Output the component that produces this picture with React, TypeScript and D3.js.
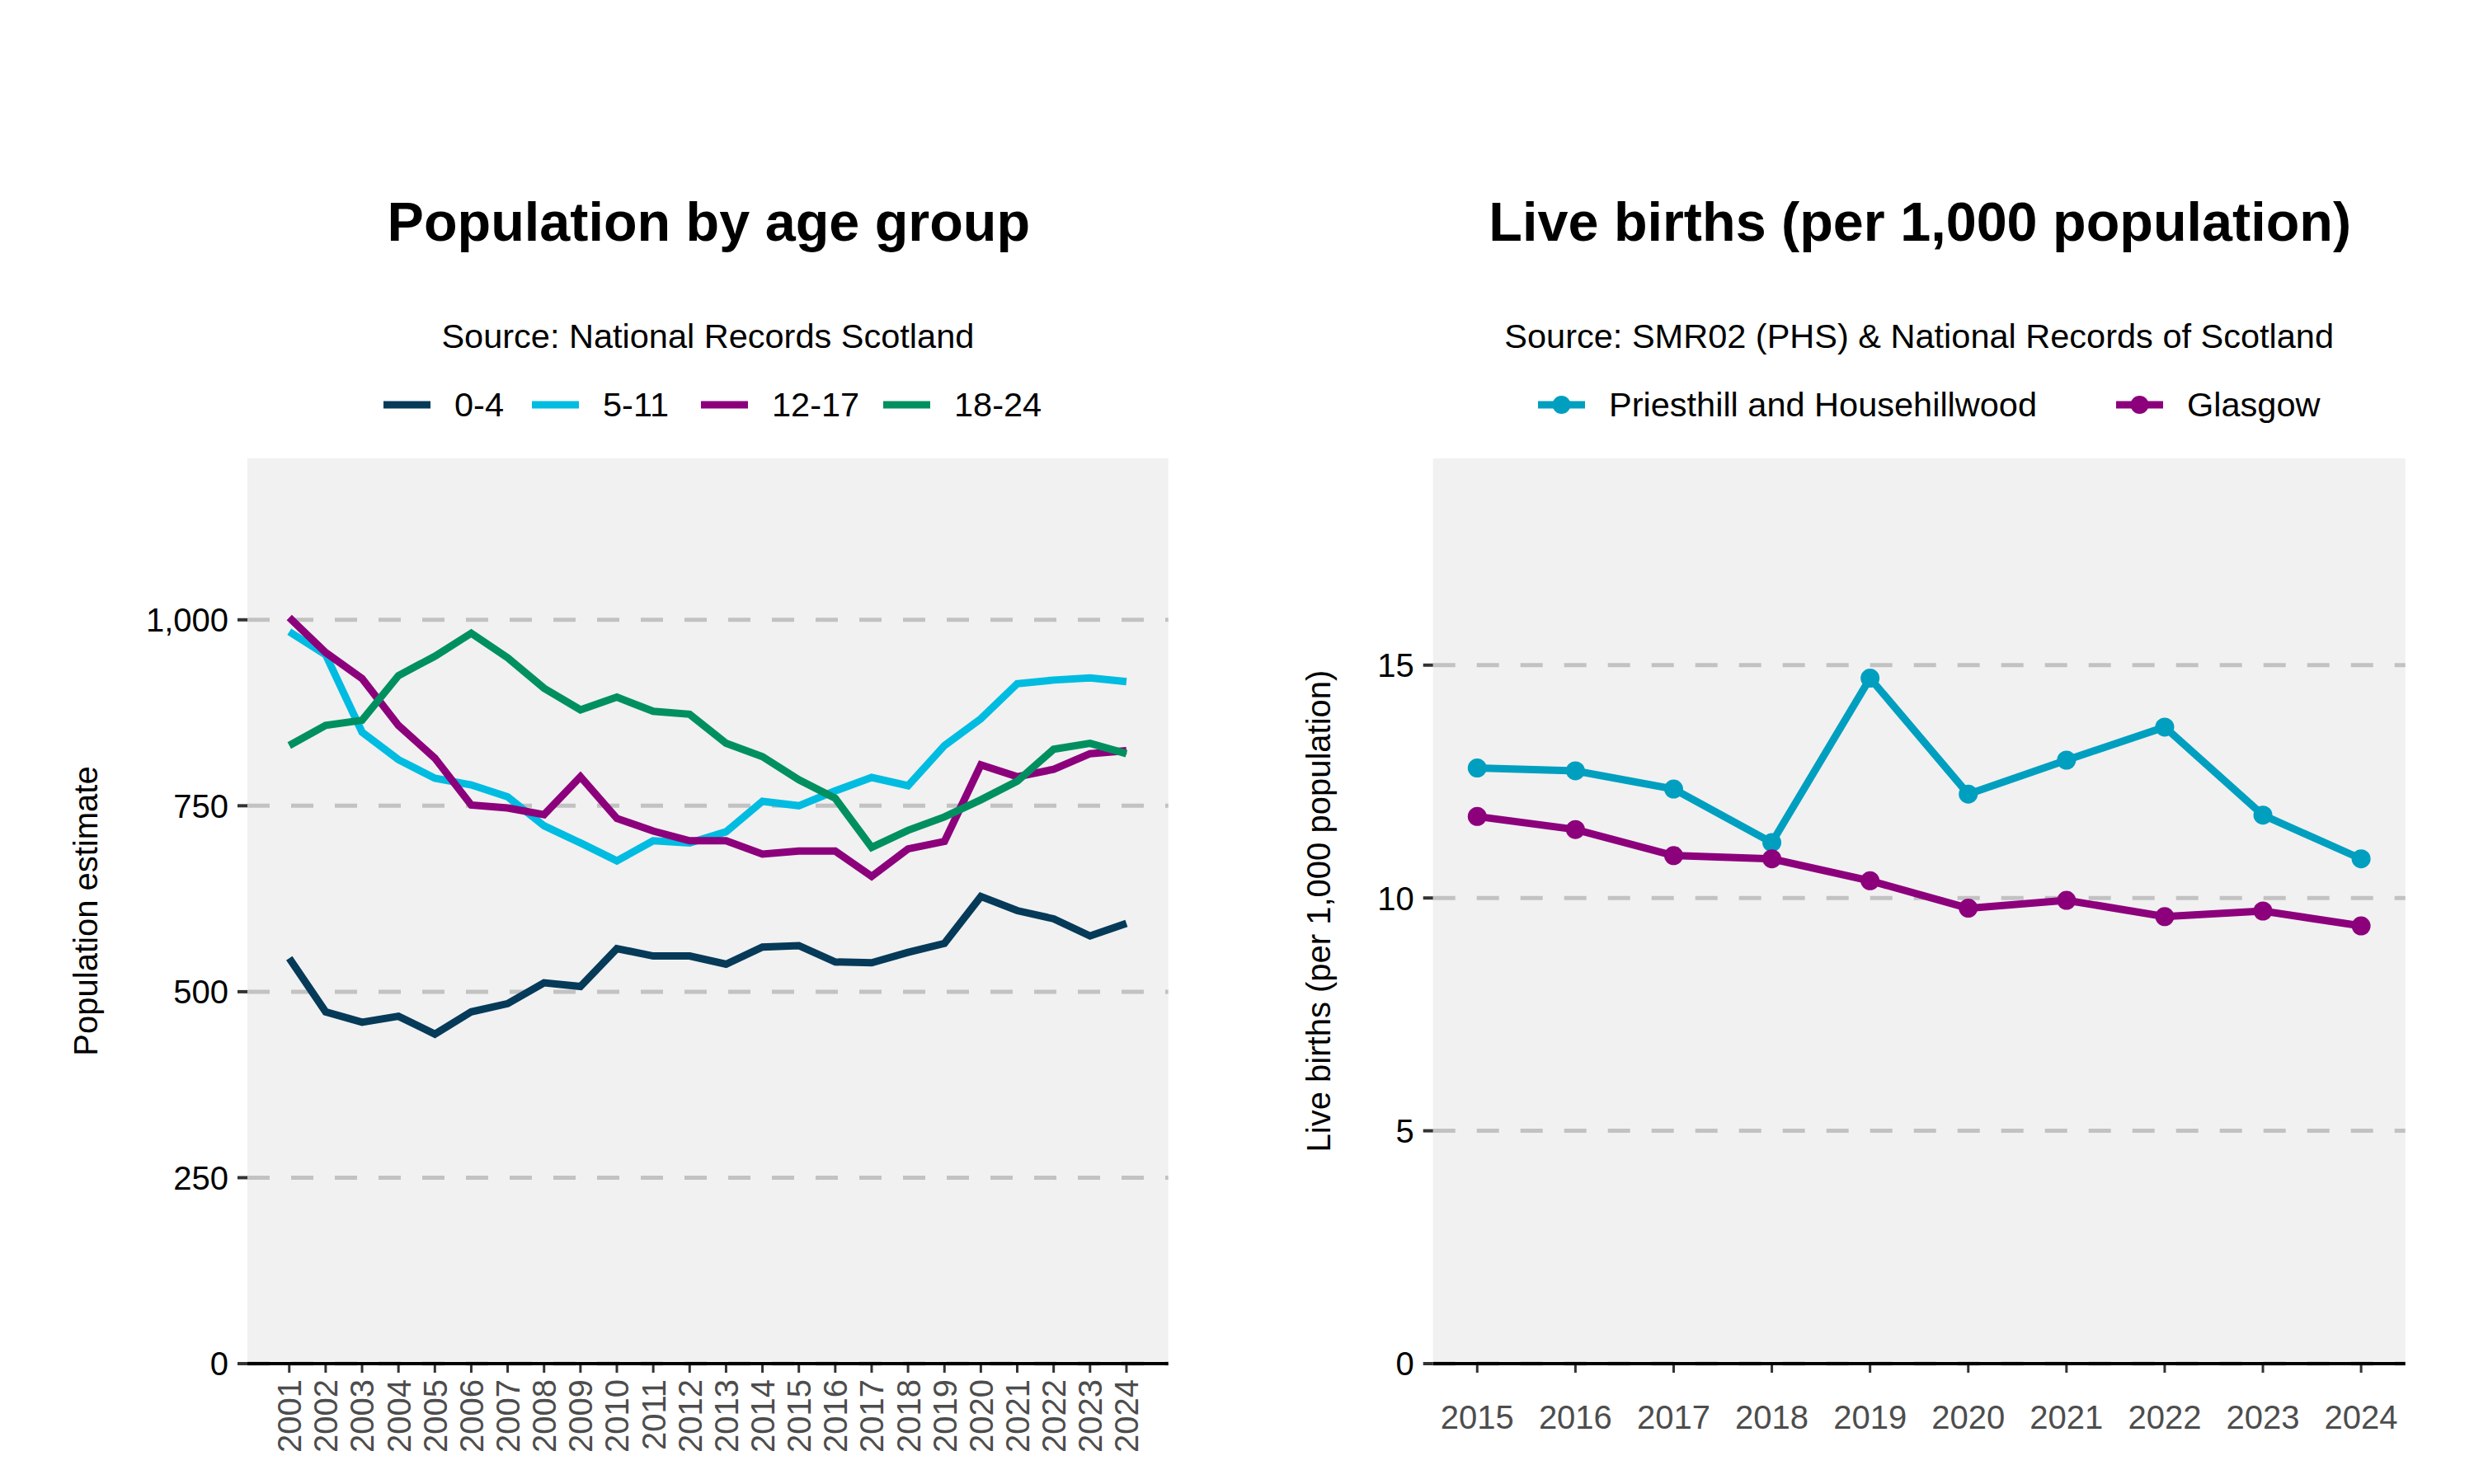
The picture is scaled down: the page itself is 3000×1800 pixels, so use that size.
import * as d3 from 'd3';
import React from 'react';

// population by age group (NRS mid-year estimates)
const popYears = [2001, 2002, 2003, 2004, 2005, 2006, 2007, 2008, 2009, 2010, 2011, 2012,
  2013, 2014, 2015, 2016, 2017, 2018, 2019, 2020, 2021, 2022, 2023, 2024];
const age0to4 = [545, 473, 459, 467, 443, 473, 484, 512, 507, 558, 548, 548,
  537, 560, 562, 540, 539, 553, 565, 628, 609, 598, 575, 592];
const age5to11 = [984, 953, 849, 812, 787, 778, 762, 723, 700, 676, 703, 700,
  715, 756, 750, 770, 788, 777, 831, 867, 914, 919, 922, 917];
const age12to17 = [1003, 956, 921, 858, 814, 751, 747, 738, 789, 733, 716, 703,
  703, 685, 689, 689, 655, 692, 702, 805, 789, 799, 820, 824];
const age18to24 = [831, 858, 865, 925, 951, 982, 949, 908, 879, 896, 877, 873,
  834, 816, 785, 760, 694, 717, 735, 758, 783, 826, 834, 820];
const popTicks = [0, 250, 500, 750, 1000];

// live births per 1,000 population
const birthYears = [2015, 2016, 2017, 2018, 2019, 2020, 2021, 2022, 2023, 2024];
const priesthill = [12.79, 12.73, 12.34, 11.19, 14.72, 12.23, 12.96, 13.67, 11.78, 10.84];
const glasgow = [11.75, 11.47, 10.91, 10.84, 10.37, 9.78, 9.95, 9.60, 9.72, 9.40];
const birthTicks = [0, 5, 10, 15];

const popSeries = [
  { name: '0-4', values: age0to4, color: '#063A59' },
  { name: '5-11', values: age5to11, color: '#00BCE1' },
  { name: '12-17', values: age12to17, color: '#8C007C' },
  { name: '18-24', values: age18to24, color: '#009060' },
];
const birthSeries = [
  { name: 'Priesthill and Househillwood', values: priesthill, color: '#009FC0' },
  { name: 'Glasgow', values: glasgow, color: '#8C007C' },
];

const FONT = '"Liberation Sans", Arial, Helvetica, sans-serif';
const PANEL_BG = '#F1F1F1';
const GRID = '#C2C2C2';
const TOP = 556;
const BOTTOM = 1654;

type Series = { name: string; values: number[]; color: string };

type PanelProps = {
  left: number;
  right: number;
  years: number[];
  series: Series[];
  yMax: number;
  ticks: number[];
  yTitle: string;
  yTitleX: number;
  rotateYears: boolean;
  points: boolean;
  title: string;
  subtitle: string;
  legendKeys: number[];
};

function Panel(p: PanelProps) {
  const span = p.years[p.years.length - 1] - p.years[0];
  const x = d3.scaleLinear()
    .domain([p.years[0] - span * 0.05, p.years[p.years.length - 1] + span * 0.05])
    .range([p.left, p.right]);
  const y = d3.scaleLinear().domain([0, p.yMax]).range([BOTTOM, TOP]);
  const fmt = d3.format(',');
  const mid = (p.left + p.right) / 2;

  const line = d3.line<number>()
    .x((_, i) => x(p.years[i]))
    .y((d) => y(d));

  return (
    <g>
      <text x={mid + 1} y={292} textAnchor="middle" fontSize={66.5} fontWeight="bold" fill="#000">{p.title}</text>
      <text x={mid} y={422} textAnchor="middle" fontSize={41.5} fill="#000">{p.subtitle}</text>

      {p.series.map((s, i) => {
        const kx = p.legendKeys[i];
        return (
          <g key={s.name}>
            <line x1={kx} x2={kx + 57} y1={491} y2={491} stroke={s.color} strokeWidth={9} />
            {p.points && <circle cx={kx + 28.5} cy={491} r={11} fill={s.color} />}
            <text x={kx + 86} y={505} fontSize={41.5} fill="#000">{s.name}</text>
          </g>
        );
      })}

      <rect x={p.left} y={TOP} width={p.right - p.left} height={BOTTOM - TOP} fill={PANEL_BG} />

      {p.ticks.map((t) => (
        <g key={t}>
          <line x1={p.left} x2={p.right} y1={y(t)} y2={y(t)} stroke={GRID} strokeWidth={5} strokeDasharray="27 26" />
          <line x1={p.left - 12} x2={p.left} y1={y(t)} y2={y(t)} stroke="#333" strokeWidth={4} />
          <text x={p.left - 23} y={y(t)} dy="0.36em" textAnchor="end" fontSize={40} fill="#000">{fmt(t)}</text>
        </g>
      ))}

      <text transform={`translate(${p.yTitleX},${(TOP + BOTTOM) / 2}) rotate(-90)`} textAnchor="middle" fontSize={40} fill="#000">{p.yTitle}</text>

      {p.series.map((s) => (
        <g key={s.name}>
          <path d={line(s.values) || ''} fill="none" stroke={s.color} strokeWidth={9} strokeLinejoin="miter" />
          {p.points && s.values.map((v, i) => (
            <circle key={i} cx={x(p.years[i])} cy={y(v)} r={11.5} fill={s.color} />
          ))}
        </g>
      ))}

      <line x1={p.left} x2={p.right} y1={BOTTOM} y2={BOTTOM} stroke="#000" strokeWidth={4} />
      {p.years.map((yr) => (
        <g key={yr}>
          <line x1={x(yr)} x2={x(yr)} y1={BOTTOM + 2} y2={BOTTOM + 11} stroke="#333" strokeWidth={3} />
          {p.rotateYears ? (
            <text transform={`translate(${x(yr)},${BOTTOM + 19}) rotate(-90)`} dy="0.36em" textAnchor="end" fontSize={40} fill="#4D4D4D">{yr}</text>
          ) : (
            <text x={x(yr)} y={BOTTOM + 79} textAnchor="middle" fontSize={40} fill="#4D4D4D">{yr}</text>
          )}
        </g>
      ))}
    </g>
  );
}

export default function App() {
  return (
    <div style={{ position: 'absolute', left: 0, top: 0 }}>
      <svg width={3000} height={1800} style={{ display: 'block', fontFamily: FONT }}>
        <rect width={3000} height={1800} fill="#fff" />
        <Panel
          left={300}
          right={1416.7}
          years={popYears}
          series={popSeries}
          yMax={1217}
          ticks={popTicks}
          yTitle="Population estimate"
          yTitleX={118}
          rotateYears={true}
          points={false}
          title="Population by age group"
          subtitle="Source: National Records Scotland"
          legendKeys={[465, 645, 850, 1071]}
        />
        <Panel
          left={1737.7}
          right={2916.7}
          years={birthYears}
          series={birthSeries}
          yMax={19.44}
          ticks={birthTicks}
          yTitle="Live births (per 1,000 population)"
          yTitleX={1613}
          rotateYears={false}
          points={true}
          title="Live births (per 1,000 population)"
          subtitle="Source: SMR02 (PHS) & National Records of Scotland"
          legendKeys={[1865, 2566]}
        />
      </svg>
    </div>
  );
}
